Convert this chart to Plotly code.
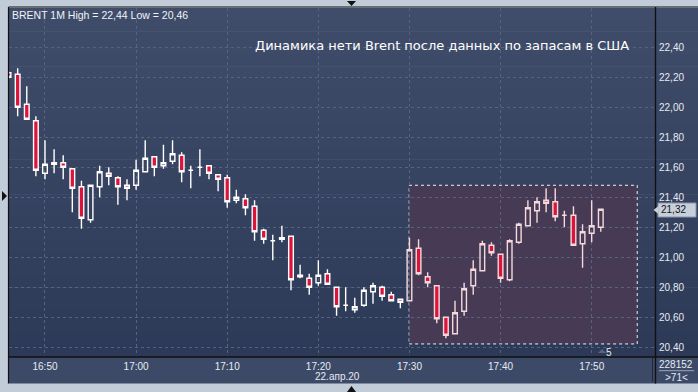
import pandas as pd
import plotly.graph_objects as go

# ---------------- data ----------------
times = pd.date_range("2020-04-22 16:46", "2020-04-22 17:51", freq="1min")
opens = [22.23, 22.22, 22.02, 21.91, 21.56, 21.62, 21.63, 21.59, 21.47, 21.25,
         21.47, 21.56, 21.53, 21.48, 21.48, 21.57, 21.67, 21.61, 21.64, 21.68,
         21.58, 21.60, 21.61, 21.55, 21.53, 21.38, 21.39, 21.34, 21.18, 21.11,
         21.12, 21.14, 20.87, 20.86, 20.83, 20.89, 20.80, 20.68, 20.65, 20.68,
         20.77, 20.80, 20.75, 20.72, 20.71, 21.06, 20.87, 20.81, 20.60, 20.49,
         20.64, 20.81, 20.91, 21.08, 21.02, 20.85, 21.10, 21.21, 21.31, 21.38,
         21.37, 21.28, 21.28, 21.09, 21.16, 21.20]
highs = [22.24, 22.26, 22.14, 21.94, 21.78, 21.72, 21.68, 21.59, 21.51, 21.48,
         21.61, 21.60, 21.54, 21.52, 21.65, 21.78, 21.67, 21.75, 21.78, 21.70,
         21.61, 21.72, 21.61, 21.55, 21.55, 21.45, 21.42, 21.38, 21.19, 21.15,
         21.21, 21.14, 20.95, 20.89, 20.98, 20.92, 20.80, 20.80, 20.73, 20.80,
         20.83, 20.81, 20.77, 20.72, 21.13, 21.12, 20.90, 20.81, 20.60, 20.71,
         20.83, 20.98, 21.11, 21.10, 21.02, 21.12, 21.23, 21.38, 21.40, 21.46,
         21.46, 21.31, 21.34, 21.22, 21.38, 21.32]
lows = [22.19, 21.94, 21.92, 21.54, 21.52, 21.56, 21.52, 21.30, 21.19, 21.23,
        21.40, 21.48, 21.35, 21.38, 21.45, 21.57, 21.54, 21.59, 21.62, 21.50,
        21.46, 21.54, 21.52, 21.44, 21.33, 21.36, 21.28, 21.11, 21.09, 20.98,
        21.10, 20.78, 20.86, 20.75, 20.81, 20.82, 20.61, 20.64, 20.63, 20.67,
        20.69, 20.71, 20.71, 20.66, 20.71, 20.88, 20.80, 20.56, 20.46, 20.49,
        20.61, 20.75, 20.91, 21.01, 20.83, 20.84, 21.09, 21.21, 21.23, 21.30,
        21.24, 21.20, 21.08, 20.93, 21.10, 21.17]
closes = [22.20, 22.00, 21.92, 21.58, 21.62, 21.63, 21.60, 21.46, 21.26, 21.48,
          21.57, 21.54, 21.47, 21.46, 21.58, 21.66, 21.60, 21.63, 21.69, 21.57,
          21.58, 21.60, 21.56, 21.52, 21.37, 21.40, 21.33, 21.17, 21.12, 21.11,
          21.13, 20.85, 20.88, 20.80, 20.88, 20.82, 20.67, 20.68, 20.67, 20.78,
          20.81, 20.74, 20.71, 20.70, 21.05, 20.89, 20.83, 20.59, 20.48, 20.63,
          20.79, 20.92, 21.09, 21.03, 20.86, 21.11, 21.22, 21.33, 21.37, 21.36,
          21.27, 21.28, 21.08, 21.17, 21.21, 21.32]

y_ticks = [20.40, 20.60, 20.80, 21.00, 21.20, 21.40, 21.60, 21.80, 22.00, 22.20, 22.40]
header_text = "BRENT 1M High = 22,44 Low = 20,46"
title_text = "Динамика нети Brent после данных по запасам в США"
date_label = "22.апр.20"
last_price_label = "21,32"
volume_label = "228152"
count_label = ">71<"
zoom_label = "5"
split_time = pd.Timestamp("2020-04-22 17:30")

# ---------------- geometry helpers (pixels -> paper) ----------------
W, H = 698, 392
L, R, T, B = 9, 43, 8, 35
PW, PH = W - L - R, H - T - B


def px(x):
    return (x - L) / PW


def py(y):
    return (H - B - y) / PH


fig = go.Figure()

sel = [t >= split_time for t in times]
for mask, line_col in [(False, "#ffffff"), (True, "#f6d9dc")]:
    idx = [i for i, s in enumerate(sel) if s == mask]
    fig.add_trace(go.Candlestick(
        x=[times[i] for i in idx],
        open=[opens[i] for i in idx],
        high=[highs[i] for i in idx],
        low=[lows[i] for i in idx],
        close=[closes[i] for i in idx],
        increasing=dict(line=dict(color=line_col, width=1.4), fillcolor="rgba(0,0,0,0)"),
        decreasing=dict(line=dict(color=line_col, width=1.4), fillcolor="#dc143c"),
        whiskerwidth=0,
        showlegend=False,
        hoverinfo="skip",
    ))

shapes = []
# background gradient (plot + right panel)
top_c = (0x40, 0x4d, 0x6a)
bot_c = (0x2c, 0x39, 0x57)
n = 30
for k in range(n):
    f0 = k / n
    f1 = (k + 1) / n
    f = (k + 0.5) / n
    c = tuple(round(top_c[j] + (bot_c[j] - top_c[j]) * f) for j in range(3))
    y0 = T + f0 * PH
    y1 = T + f1 * PH + 0.6
    shapes.append(dict(type="rect", xref="paper", yref="paper", layer="below",
                       x0=px(L), x1=px(W + 2), y0=py(y1), y1=py(y0),
                       fillcolor="rgb(%d,%d,%d)" % c, line=dict(width=0)))
# bottom axis panel
shapes.append(dict(type="rect", xref="paper", yref="paper", layer="below",
                   x0=px(L), x1=px(W + 2), y0=py(383.5), y1=py(357),
                   fillcolor="#3d4a67", line=dict(width=0)))
# selection rectangle
shapes.append(dict(type="rect", xref="x", yref="y", layer="below",
                   x0="2020-04-22 17:29:58", x1="2020-04-22 17:55:00",
                   y0=20.422, y1=21.48,
                   fillcolor="#473a55", line=dict(color="#f0f0f0", width=1, dash="dot")))
# frame lines
shapes += [
    dict(type="line", xref="paper", yref="paper", x0=px(8.5), x1=px(8.5), y0=py(383.5), y1=py(7), line=dict(color="#111", width=1.2)),
    dict(type="line", xref="paper", yref="paper", x0=px(8.5), x1=px(W + 2), y0=py(7), y1=py(7), line=dict(color="#111", width=1.2)),
    dict(type="line", xref="paper", yref="paper", x0=px(8.5), x1=px(W + 2), y0=py(357), y1=py(357), line=dict(color="#111", width=1.4)),
    dict(type="line", xref="paper", yref="paper", x0=px(655.5), x1=px(655.5), y0=py(383.5), y1=py(7), line=dict(color="#111", width=1.4)),
    dict(type="line", xref="paper", yref="paper", x0=px(652.5), x1=px(652.5), y0=py(382), y1=py(358), line=dict(color="#222a3a", width=1)),
    dict(type="line", xref="paper", yref="paper", x0=px(659), x1=px(694), y0=py(370.7), y1=py(370.7), line=dict(color="#9aa6b8", width=1)),
    # last price marker box
    dict(type="rect", xref="paper", yref="paper", x0=px(658), x1=px(696), y0=py(217), y1=py(203), fillcolor="#c7cfda", line=dict(color="#8a96a8", width=1)),
    dict(type="path", xref="paper", yref="paper",
         path="M %f,%f L %f,%f L %f,%f Z" % (px(653.5), py(210), px(658.5), py(206), px(658.5), py(214)),
         fillcolor="#c7cfda", line=dict(width=0)),
    # small triangles (chrome)
    dict(type="path", xref="paper", yref="paper",
         path="M %f,%f L %f,%f L %f,%f Z" % (px(2), py(191), px(7), py(196), px(2), py(201)),
         fillcolor="#111", line=dict(width=0)),
    dict(type="path", xref="paper", yref="paper",
         path="M %f,%f L %f,%f L %f,%f Z" % (px(347), py(1), px(356), py(1), px(351.5), py(6)),
         fillcolor="#111", line=dict(width=0)),
    dict(type="path", xref="paper", yref="paper",
         path="M %f,%f L %f,%f L %f,%f Z" % (px(347), py(392), px(356), py(392), px(351.5), py(386)),
         fillcolor="#111", line=dict(width=0)),
    dict(type="path", xref="paper", yref="paper",
         path="M %f,%f L %f,%f L %f,%f Z" % (px(598), py(353), px(606), py(353), px(602), py(349)),
         fillcolor="#5a6680", line=dict(width=0)),
]

font_small = dict(family="Liberation Sans, Arial, sans-serif", size=10, color="#e6ebf3")
annotations = [
    dict(text=header_text, xref="paper", yref="paper", x=px(10), y=py(15), xanchor="left", yanchor="middle",
         showarrow=False, font=dict(family="Liberation Sans, Arial, sans-serif", size=10.5, color="#f0f3f8")),
    dict(text=title_text, xref="paper", yref="paper", x=px(442), y=py(45), xanchor="center", yanchor="middle",
         showarrow=False, font=dict(family="DejaVu Sans, sans-serif", size=13, color="#ffffff")),
    dict(text=date_label, xref="paper", yref="paper", x=px(337.5), y=py(376.5), xanchor="center", yanchor="middle",
         showarrow=False, font=font_small),
    dict(text=last_price_label, xref="paper", yref="paper", x=px(659), y=py(210), xanchor="left", yanchor="middle",
         showarrow=False, font=dict(family="Liberation Sans, Arial, sans-serif", size=10, color="#111111")),
    dict(text=volume_label, xref="paper", yref="paper", x=px(676), y=py(364), xanchor="center", yanchor="middle",
         showarrow=False, font=font_small),
    dict(text=count_label, xref="paper", yref="paper", x=px(676), y=py(377.5), xanchor="center", yanchor="middle",
         showarrow=False, font=font_small),
    dict(text=zoom_label, xref="paper", yref="paper", x=px(609), y=py(352), xanchor="center", yanchor="middle",
         showarrow=False, font=font_small),
]

grid_col = "#56627f"
fig.update_layout(
    width=W, height=H,
    margin=dict(l=L, r=R, t=T, b=B),
    paper_bgcolor="#c2ccd9",
    plot_bgcolor="rgba(0,0,0,0)",
    separators=",.",
    boxgap=0.27,
    shapes=shapes,
    annotations=annotations,
    xaxis=dict(
        type="date",
        range=["2020-04-22 16:46:03", "2020-04-22 17:56:57"],
        rangeslider=dict(visible=False),
        tick0="2020-04-22 16:50", dtick=600000, tickformat="%H:%M",
        showgrid=True, gridcolor=grid_col, griddash="3px,3px", gridwidth=1,
        ticks="", ticklabelstandoff=2,
        tickfont=font_small, zeroline=False, showline=False,
        fixedrange=True,
    ),
    yaxis=dict(
        side="right",
        range=[20.335, 22.662],
        tickvals=y_ticks, tickformat=".2f",
        showgrid=True, gridcolor=grid_col, griddash="3px,3px", gridwidth=1,
        ticks="", ticklabelstandoff=3,
        tickfont=font_small, zeroline=False, showline=False,
        fixedrange=True,
    ),
)

fig.write_html("out.html")
